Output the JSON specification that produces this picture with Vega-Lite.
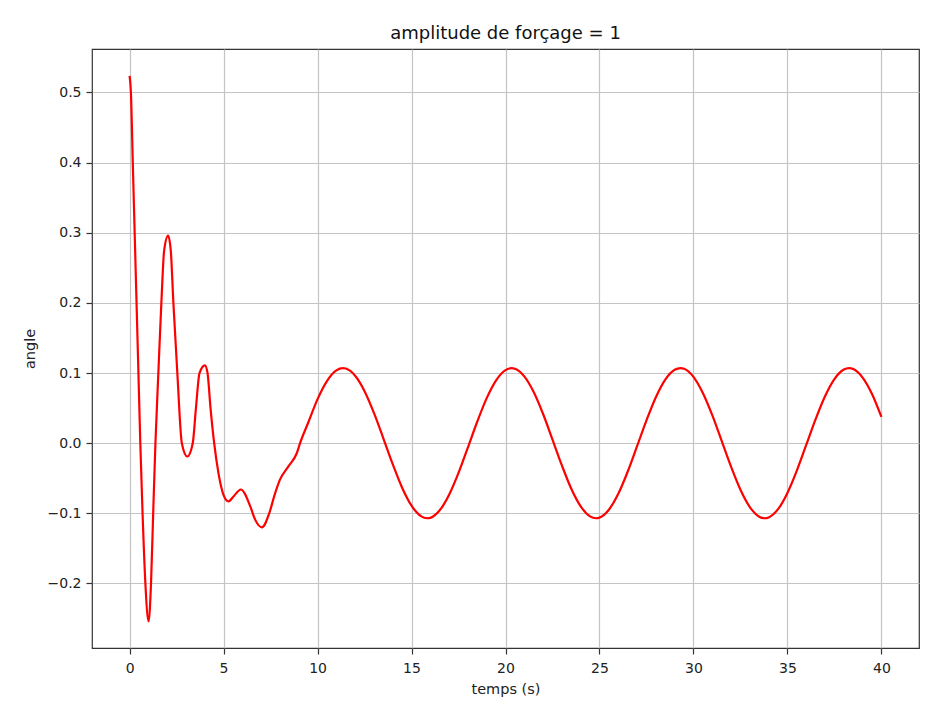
{
  "$schema": "https://vega.github.io/schema/vega-lite/v6.json",
  "width": 827,
  "height": 599,
  "autosize": {"type": "none"},
  "padding": {"left": 92, "top": 49, "right": 8, "bottom": 54},
  "background": "white",
  "title": {
    "text": "amplitude de forçage = 1",
    "font": "DejaVu Sans",
    "fontSize": 18,
    "fontWeight": "normal",
    "color": "#111",
    "anchor": "middle",
    "offset": 6
  },
  "config": {
    "view": {"stroke": "#333", "strokeWidth": 1.2},
    "axis": {
      "labelFont": "DejaVu Sans",
      "labelFontSize": 14,
      "labelColor": "#222",
      "titleFont": "DejaVu Sans",
      "titleFontSize": 14.5,
      "titleFontWeight": "normal",
      "titleColor": "#222",
      "gridColor": "#c4c4c4",
      "gridWidth": 1.2,
      "tickColor": "#333",
      "tickSize": 6,
      "tickWidth": 1.2,
      "domain": false,
      "labelPadding": 5
    }
  },
  "data": {
    "values": [
      {"t": 0, "angle": 0.5236},
      {"t": 0.07, "angle": 0.5},
      {"t": 0.17, "angle": 0.4},
      {"t": 0.27, "angle": 0.3},
      {"t": 0.37, "angle": 0.2},
      {"t": 0.47, "angle": 0.1},
      {"t": 0.57, "angle": 0.0},
      {"t": 0.69, "angle": -0.1},
      {"t": 0.84, "angle": -0.2},
      {"t": 1.01, "angle": -0.254},
      {"t": 1.14, "angle": -0.2},
      {"t": 1.255, "angle": -0.1},
      {"t": 1.375, "angle": 0.0},
      {"t": 1.53, "angle": 0.1},
      {"t": 1.69, "angle": 0.2},
      {"t": 1.84, "angle": 0.275},
      {"t": 2.05, "angle": 0.296},
      {"t": 2.19, "angle": 0.275},
      {"t": 2.33, "angle": 0.2},
      {"t": 2.54, "angle": 0.1},
      {"t": 2.78, "angle": 0.0},
      {"t": 3.07, "angle": -0.019},
      {"t": 3.36, "angle": 0.0},
      {"t": 3.53, "angle": 0.05},
      {"t": 3.72, "angle": 0.1},
      {"t": 4.008, "angle": 0.111},
      {"t": 4.147, "angle": 0.1},
      {"t": 4.306, "angle": 0.05},
      {"t": 4.5, "angle": 0.0},
      {"t": 4.73, "angle": -0.043},
      {"t": 5.0, "angle": -0.074},
      {"t": 5.263, "angle": -0.083},
      {"t": 5.53, "angle": -0.076},
      {"t": 5.92, "angle": -0.066},
      {"t": 6.42, "angle": -0.09},
      {"t": 6.68, "angle": -0.109},
      {"t": 7.04, "angle": -0.12},
      {"t": 7.43, "angle": -0.1},
      {"t": 7.7, "angle": -0.075},
      {"t": 8.0, "angle": -0.052},
      {"t": 8.45, "angle": -0.033},
      {"t": 8.9, "angle": -0.014},
      {"t": 9.07, "angle": 0.0},
      {"t": 9.5, "angle": 0.0291},
      {"t": 10, "angle": 0.0628},
      {"t": 10.5, "angle": 0.0886},
      {"t": 11, "angle": 0.1038},
      {"t": 11.35, "angle": 0.107},
      {"t": 11.5, "angle": 0.1064},
      {"t": 12, "angle": 0.0961},
      {"t": 12.5, "angle": 0.0742},
      {"t": 13, "angle": 0.0432},
      {"t": 13.5, "angle": 0.007},
      {"t": 14, "angle": -0.03},
      {"t": 14.5, "angle": -0.0635},
      {"t": 15, "angle": -0.0891},
      {"t": 15.5, "angle": -0.104},
      {"t": 15.84, "angle": -0.107},
      {"t": 16, "angle": -0.1064},
      {"t": 16.5, "angle": -0.0957},
      {"t": 17, "angle": -0.0735},
      {"t": 17.5, "angle": -0.0424},
      {"t": 18, "angle": -0.0061},
      {"t": 18.5, "angle": 0.0309},
      {"t": 19, "angle": 0.0642},
      {"t": 19.5, "angle": 0.0896},
      {"t": 20, "angle": 0.1042},
      {"t": 20.33, "angle": 0.107},
      {"t": 20.5, "angle": 0.1062},
      {"t": 21, "angle": 0.0953},
      {"t": 21.5, "angle": 0.0729},
      {"t": 22, "angle": 0.0416},
      {"t": 22.5, "angle": 0.0052},
      {"t": 23, "angle": -0.0317},
      {"t": 23.5, "angle": -0.0649},
      {"t": 24, "angle": -0.09},
      {"t": 24.5, "angle": -0.1044},
      {"t": 24.82, "angle": -0.107},
      {"t": 25, "angle": -0.1061},
      {"t": 25.5, "angle": -0.0949},
      {"t": 26, "angle": -0.0722},
      {"t": 26.5, "angle": -0.0407},
      {"t": 27, "angle": -0.0043},
      {"t": 27.5, "angle": 0.0326},
      {"t": 28, "angle": 0.0656},
      {"t": 28.5, "angle": 0.0906},
      {"t": 29, "angle": 0.1046},
      {"t": 29.31, "angle": 0.107},
      {"t": 29.5, "angle": 0.106},
      {"t": 30, "angle": 0.0945},
      {"t": 30.5, "angle": 0.0715},
      {"t": 31, "angle": 0.0399},
      {"t": 31.5, "angle": 0.0034},
      {"t": 32, "angle": -0.0334},
      {"t": 32.5, "angle": -0.0663},
      {"t": 33, "angle": -0.091},
      {"t": 33.5, "angle": -0.1048},
      {"t": 33.8, "angle": -0.107},
      {"t": 34, "angle": -0.1058},
      {"t": 34.5, "angle": -0.0941},
      {"t": 35, "angle": -0.0709},
      {"t": 35.5, "angle": -0.0391},
      {"t": 36, "angle": -0.0025},
      {"t": 36.5, "angle": 0.0343},
      {"t": 37, "angle": 0.067},
      {"t": 37.5, "angle": 0.0915},
      {"t": 38, "angle": 0.105},
      {"t": 38.28, "angle": 0.107},
      {"t": 38.5, "angle": 0.1057},
      {"t": 39, "angle": 0.0936},
      {"t": 39.5, "angle": 0.0702},
      {"t": 40, "angle": 0.0375}
    ]
  },
  "mark": {"type": "line", "color": "#ff0000", "strokeWidth": 2.2, "interpolate": "monotone"},
  "encoding": {
    "x": {
      "field": "t",
      "type": "quantitative",
      "title": "temps (s)",
      "scale": {"domain": [-2, 42], "nice": false, "zero": false},
      "axis": {"values": [0, 5, 10, 15, 20, 25, 30, 35, 40], "format": "d", "labelPadding": 7, "titlePadding": 7}
    },
    "y": {
      "field": "angle",
      "type": "quantitative",
      "title": "angle",
      "scale": {"domain": [-0.292, 0.562], "nice": false, "zero": false},
      "axis": {"values": [-0.2, -0.1, 0, 0.1, 0.2, 0.3, 0.4, 0.5], "format": ".1f", "titlePadding": 10}
    }
  }
}
